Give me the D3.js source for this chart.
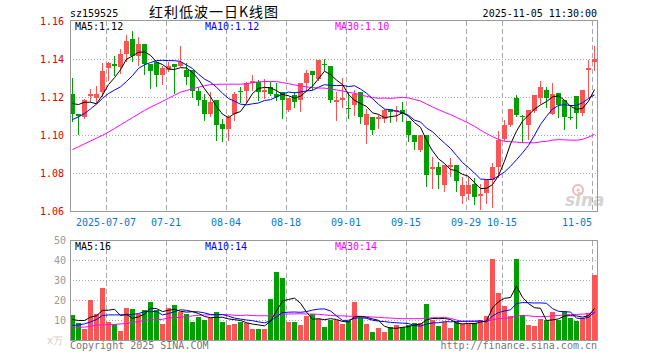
<!DOCTYPE html>
<html><head><meta charset="utf-8">
<script src="https://cdn.jsdelivr.net/npm/d3@7/dist/d3.min.js"></script>
<style>
body{margin:0;background:#fff;}
svg{display:block;}
text{font-family:"DejaVu Sans Mono",monospace;font-size:10px;}
</style></head><body>
<svg id="c" width="660" height="360"></svg>
<script>
const dates=["2025-06-27","2025-06-30","2025-07-01","2025-07-02","2025-07-03","2025-07-04","2025-07-07","2025-07-08","2025-07-09","2025-07-10","2025-07-11","2025-07-14","2025-07-15","2025-07-16","2025-07-17","2025-07-18","2025-07-21","2025-07-22","2025-07-23","2025-07-24","2025-07-25","2025-07-28","2025-07-29","2025-07-30","2025-07-31","2025-08-01","2025-08-04","2025-08-05","2025-08-06","2025-08-07","2025-08-08","2025-08-11","2025-08-12","2025-08-13","2025-08-14","2025-08-15","2025-08-18","2025-08-19","2025-08-20","2025-08-21","2025-08-22","2025-08-25","2025-08-26","2025-08-27","2025-08-28","2025-08-29","2025-09-01","2025-09-02","2025-09-03","2025-09-04","2025-09-05","2025-09-08","2025-09-09","2025-09-10","2025-09-11","2025-09-12","2025-09-15","2025-09-16","2025-09-17","2025-09-18","2025-09-19","2025-09-22","2025-09-23","2025-09-24","2025-09-25","2025-09-26","2025-09-29","2025-09-30","2025-10-09","2025-10-10","2025-10-13","2025-10-14","2025-10-15","2025-10-16","2025-10-17","2025-10-20","2025-10-21","2025-10-22","2025-10-23","2025-10-24","2025-10-27","2025-10-28","2025-10-29","2025-10-30","2025-10-31","2025-11-03","2025-11-04","2025-11-05"];
const open=[1.1218,1.1112,1.1095,1.1209,1.1198,1.1230,1.1356,1.1375,1.1361,1.1428,1.1507,1.1418,1.1484,1.1375,1.1388,1.1318,1.1344,1.1375,1.1367,1.1347,1.1347,1.1233,1.1186,1.1112,1.1186,1.1063,1.1033,1.1112,1.1233,1.1233,1.1274,1.1282,1.1230,1.1253,1.1218,1.1230,1.1133,1.1212,1.1189,1.1274,1.1339,1.1300,1.1377,1.1365,1.1177,1.1186,1.1146,1.1163,1.1230,1.1054,1.1095,1.1089,1.1089,1.1142,1.1125,1.1133,1.1077,1.1002,1.0923,1.1002,1.0826,1.0835,1.0739,1.0835,1.0844,1.0682,1.0691,1.0747,1.0682,1.0695,1.0765,1.0835,1.0979,1.1054,1.1195,1.1104,1.1054,1.1130,1.1195,1.1242,1.1112,1.1226,1.1186,1.1098,1.1207,1.1116,1.1347,1.1388];
const high=[1.1305,1.1112,1.1190,1.1247,1.1260,1.1379,1.1386,1.1418,1.1453,1.1528,1.1549,1.1519,1.1484,1.1375,1.1388,1.1365,1.1386,1.1375,1.1470,1.1384,1.1347,1.1253,1.1218,1.1230,1.1186,1.1089,1.1107,1.1230,1.1256,1.1282,1.1318,1.1291,1.1295,1.1282,1.1274,1.1230,1.1198,1.1230,1.1274,1.1347,1.1339,1.1396,1.1405,1.1365,1.1230,1.1305,1.1230,1.1239,1.1230,1.1142,1.1095,1.1107,1.1142,1.1142,1.1154,1.1177,1.1077,1.1002,1.1002,1.1002,1.0888,1.0861,1.0844,1.0882,1.0844,1.0782,1.0788,1.0774,1.0744,1.0768,1.0853,1.1023,1.1081,1.1142,1.1212,1.1107,1.1133,1.1212,1.1288,1.1256,1.1274,1.1226,1.1186,1.1160,1.1207,1.1242,1.1396,1.1470];
const low=[1.1077,1.1009,1.1093,1.1181,1.1177,1.1207,1.1291,1.1316,1.1330,1.1391,1.1391,1.1370,1.1326,1.1251,1.1261,1.1270,1.1340,1.1225,1.1365,1.1270,1.1204,1.1160,1.1081,1.1102,1.0975,1.0970,1.0975,1.1081,1.1177,1.1177,1.1242,1.1186,1.1195,1.1212,1.1186,1.1093,1.1128,1.1151,1.1128,1.1242,1.1247,1.1290,1.1347,1.1177,1.1081,1.1151,1.1093,1.1107,1.1067,1.0963,1.1007,1.1040,1.1072,1.1072,1.1077,1.1077,1.0972,1.0928,1.0920,1.0735,1.0726,1.0726,1.0709,1.0788,1.0709,1.0646,1.0668,1.0639,1.0611,1.0646,1.0625,1.0782,1.0975,1.1050,1.1102,1.0967,1.0979,1.1125,1.1172,1.1151,1.1112,1.1098,1.1032,1.1089,1.1042,1.1107,1.1204,1.1344];
const close=[1.1111,1.1102,1.1186,1.1218,1.1218,1.1339,1.1379,1.1367,1.1428,1.1496,1.1419,1.1481,1.1375,1.1340,1.1318,1.1353,1.1365,1.1361,1.1388,1.1309,1.1235,1.1186,1.1112,1.1177,1.1054,1.1033,1.1095,1.1218,1.1230,1.1274,1.1288,1.1230,1.1242,1.1221,1.1200,1.1186,1.1198,1.1177,1.1274,1.1330,1.1318,1.1396,1.1374,1.1186,1.1186,1.1198,1.1137,1.1221,1.1098,1.1112,1.1028,1.1098,1.1133,1.1125,1.1133,1.1112,1.1002,1.0967,1.1002,1.0791,1.0835,1.0791,1.0844,1.0844,1.0761,1.0739,1.0739,1.0674,1.0691,1.0768,1.0835,1.0975,1.1054,1.1142,1.1107,1.1100,1.1133,1.1212,1.1253,1.1195,1.1221,1.1163,1.1098,1.1093,1.1116,1.1242,1.1354,1.1405];
const volume=[13,9,6,20.5,13.3,26.5,9.5,8.3,5,16.5,16,13.3,15.5,19.5,15.5,8.5,16.5,18,14.5,13.5,9.5,12,10.5,11.5,14.5,9.5,8,8.5,9.5,9,6,6,6,21,34.5,31.5,9.5,9.5,8,12.5,13.5,11,7,10.5,10.5,8.5,10,19.5,11.5,8.5,4.5,6.5,4.5,7,8,7,8,9,9,18.5,10.5,7.5,9.5,6.5,9.5,8.5,8.5,9,10.5,12.5,41,24,17.5,12.5,41,13,8,7.5,11,10.5,14.5,10.5,15,11.5,10,11.5,14,33];
// moving-average values before enough history is visible
const ma5Lead=[1.1168,1.1163,1.1175,1.1175];
const ma10Lead=[1.1084,1.1098,1.1116,1.1140,1.1165,1.1195,1.1221,1.1239,1.1256];
const ma30Lead=[1.0926,1.0941,1.0956,1.0971,1.0986,1.1001,1.1018,1.1037,1.1056,1.1075,1.1094,1.1113,1.1132,1.1149,1.1164,1.1180,1.1196,1.1212,1.1228,1.1237,1.1246,1.1254,1.1262,1.1268,1.1269,1.1270,1.1270,1.1270,1.1270];
const vma5Lead=[10.5,10,10,11.7];
const vma10Lead=[7.5,7.8,8.3,9.3,10.5,12.5,12.8,12.8,12.8];
const vma30Lead=[6.7,6.7,6.7,7.0,7.8,7.8,7.9,8.0,8.3,8.5,9.2,9.3,10.2,10.3,10.4,10.6,11.3,11.4,11.6,12.0,12.3,12.6,12.8,12.8,12.8,12.9,12.9,12.6,12.5];
const priceTicks=[1.06,1.08,1.10,1.12,1.14,1.16];
const volTicks=[10,20,30,40,50];
const dateTicks=["2025-07-07","2025-07-21","2025-08-04","2025-08-18","2025-09-01","2025-09-15","2025-09-29","2025-10-15","2025-11-05"];

const RED="#fa5555", GREEN="#00a000", GRID="#aaaaaa", BORDER="#999999";
const C_MA5="#000000", C_MA10="#0000ff", C_MA30="#ff00ff";

function movingAvg(vals,n,lead){return vals.map((v,i)=> i>=n-1 ? d3.mean(vals.slice(i-n+1,i+1)) : lead[i]);}
const ma5=movingAvg(close,5,ma5Lead), ma10=movingAvg(close,10,ma10Lead), ma30=movingAvg(close,30,ma30Lead);
const vma5=movingAvg(volume,5,vma5Lead), vma10=movingAvg(volume,10,vma10Lead), vma30=movingAvg(volume,30,vma30Lead);

const svg=d3.select("#c");
const L=70, R=597;
const x=d3.scaleBand().domain(dates).range([L, L+6*dates.length]).padding(0);
const y=d3.scaleLinear().domain([1.06,1.16]).range([211.5,21.5]);
const yv=d3.scaleLinear().domain([0,50]).range([340.5,240.5]);
const cx=d=>x(d)+2.5;

// grids
const g=svg.append("g");
g.selectAll(".hg").data(priceTicks.slice(1,-1)).join("line")
 .attr("x1",L).attr("x2",R).attr("y1",d=>Math.round(y(d)-0.5)+0.5).attr("y2",d=>Math.round(y(d)-0.5)+0.5)
 .attr("stroke",GRID).attr("stroke-dasharray","1,2");
g.selectAll(".vhg").data(volTicks.slice(0,-1)).join("line")
 .attr("x1",L).attr("x2",R).attr("y1",d=>yv(d)).attr("y2",d=>yv(d))
 .attr("stroke",GRID).attr("stroke-dasharray","1,2");
dateTicks.forEach(d=>{
  const xx=x(d)+0.5;
  g.append("line").attr("x1",xx).attr("x2",xx).attr("y1",21).attr("y2",211).attr("stroke",GRID).attr("stroke-dasharray","5,3");
  g.append("line").attr("x1",xx).attr("x2",xx).attr("y1",241).attr("y2",340).attr("stroke",GRID).attr("stroke-dasharray","5,3");
});

// watermark
const wm=svg.append("g");
wm.append("circle").attr("cx",578).attr("cy",190).attr("r",5).attr("fill","none").attr("stroke","#f2b8b8").attr("stroke-width",2);
wm.append("circle").attr("cx",578).attr("cy",190).attr("r",1.5).attr("fill","#f2b8b8");
wm.append("text").attr("x",565).attr("y",206).attr("fill","#d4d4d4")
 .style("font-family","DejaVu Sans").style("font-size","17px").style("font-style","italic").style("font-weight","bold").text("sina");

// candles
const idx=d3.range(dates.length);
const up=i=>close[i]>=open[i];
const cg=svg.append("g");
cg.selectAll(".wick").data(idx).join("line")
 .attr("x1",i=>cx(dates[i])).attr("x2",i=>cx(dates[i]))
 .attr("y1",i=>Math.round(y(high[i]))).attr("y2",i=>Math.round(y(low[i]))+1)
 .attr("stroke",i=>up(i)?RED:GREEN);
cg.selectAll(".body").data(idx).join("rect")
 .attr("x",i=>x(dates[i])).attr("width",5)
 .attr("y",i=>Math.round(y(Math.max(open[i],close[i]))))
 .attr("height",i=>Math.max(1,Math.round(y(Math.min(open[i],close[i])))-Math.round(y(Math.max(open[i],close[i])))))
 .attr("fill",i=>up(i)?RED:GREEN);

// price MA lines
const pline=d3.line().x((v,i)=>cx(dates[i])).y(v=>y(v));
[[ma30,C_MA30],[ma10,C_MA10],[ma5,C_MA5]].forEach(([arr,c])=>{
  svg.append("path").attr("d",pline(arr)).attr("fill","none").attr("stroke",c).attr("stroke-width",1);
});

// volume bars
svg.append("g").selectAll("rect").data(idx).join("rect")
 .attr("x",i=>x(dates[i])).attr("width",5)
 .attr("y",i=>Math.round(yv(volume[i])))
 .attr("height",i=>340-Math.round(yv(volume[i])))
 .attr("fill",i=>up(i)?RED:GREEN);
const vline=d3.line().x((v,i)=>cx(dates[i])).y(v=>yv(v));
[[vma30,C_MA30],[vma10,C_MA10],[vma5,C_MA5]].forEach(([arr,c])=>{
  svg.append("path").attr("d",vline(arr)).attr("fill","none").attr("stroke",c).attr("stroke-width",1);
});

// borders
svg.append("rect").attr("x",L+0.5).attr("y",20.5).attr("width",R-L).attr("height",191).attr("fill","none").attr("stroke",BORDER);
svg.append("rect").attr("x",L+0.5).attr("y",240.5).attr("width",R-L).attr("height",100).attr("fill","none").attr("stroke",BORDER);

// axes
const ay=svg.append("g").attr("transform",`translate(${L},0)`)
 .call(d3.axisLeft(y).tickValues(priceTicks).tickFormat(d3.format(".2f")).tickSize(0).tickPadding(6));
ay.select(".domain").remove();
ay.selectAll("text").attr("fill","#e00000").style("font-family","DejaVu Sans Mono").style("font-size","10px");

const av=svg.append("g").attr("transform",`translate(${L-4},0)`)
 .call(d3.axisLeft(yv).tickValues(volTicks).tickFormat(d3.format("d")).tickSize(0).tickPadding(0));
av.select(".domain").remove();
av.selectAll("text").attr("fill","#999").style("font-family","DejaVu Sans Mono").style("font-size","10px");
svg.append("text").attr("x",63).attr("y",344).attr("text-anchor","end").attr("fill","#ccc").text("x万");

const ax=svg.append("g").attr("transform","translate(-3,211.5)")
 .call(d3.axisBottom(x).tickValues(dateTicks).tickFormat((d,i)=>i===0?d:d.slice(5)).tickSize(0).tickPadding(7.5));
ax.select(".domain").remove();
ax.selectAll("text").attr("fill","#0a78d2").style("font-family","DejaVu Sans Mono").style("font-size","10px");
ax.selectAll(".tick").filter(d=>d===dates[dates.length-1]).select("text").attr("text-anchor","end");

// header texts
svg.append("text").attr("x",70).attr("y",17).attr("fill","#000").text("sz159525");
svg.append("text").attr("x",214).attr("y",17).attr("text-anchor","middle").attr("fill","#000")
 .style("font-family","'Noto Sans CJK SC'").style("font-size","14px").style("letter-spacing","1px").text("红利低波一日K线图");
svg.append("text").attr("x",597).attr("y",17).attr("text-anchor","end").attr("fill","#000").text("2025-11-05 11:30:00");

const f2=d3.format(".2f"), f0=d3.format(".0f");
const last=dates.length-1;
svg.append("text").attr("x",75).attr("y",30).attr("fill",C_MA5).text("MA5:"+f2(ma5[last]));
svg.append("text").attr("x",205).attr("y",30).attr("fill",C_MA10).text("MA10:"+f2(ma10[last]));
svg.append("text").attr("x",335).attr("y",30).attr("fill",C_MA30).text("MA30:"+f2(ma30[last]));
svg.append("text").attr("x",75).attr("y",250).attr("fill",C_MA5).text("MA5:"+f0(vma5[last]));
svg.append("text").attr("x",205).attr("y",250).attr("fill",C_MA10).text("MA10:"+f0(vma10[last]));
svg.append("text").attr("x",335).attr("y",250).attr("fill",C_MA30).text("MA30:"+f0(vma30[last]));

svg.append("text").attr("x",70).attr("y",349).attr("fill","#777").text("Copyright 2025 SINA.COM");
svg.append("text").attr("x",597).attr("y",349).attr("text-anchor","end").attr("fill","#777").text("http://finance.sina.com.cn");
</script>
</body></html>
